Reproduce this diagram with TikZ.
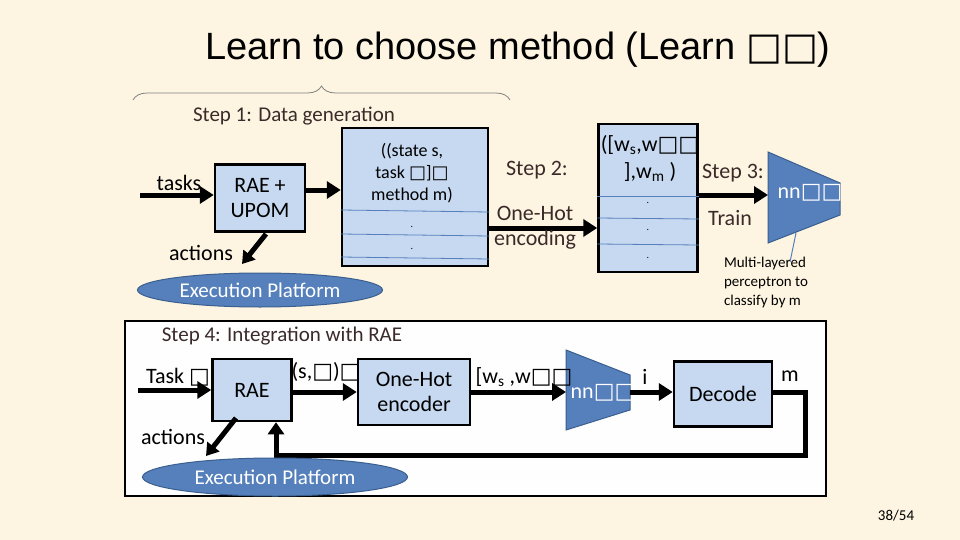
\documentclass[tikz,border=0pt]{standalone}
\usepackage{fontspec}
\setmainfont{Carlito}
\newfontfamily\titlefont{Liberation Sans}
\newfontfamily\djv{DejaVu Sans}
\newcommand{\bx}{{\djv\char"25A1}}
\newcommand{\sbs}[1]{\textsubscript{#1}}
\usetikzlibrary{arrows.meta,decorations.pathreplacing,shapes.geometric}
\definecolor{bg}{HTML}{FDF5E1}
\definecolor{lb}{HTML}{C6D9F1}
\definecolor{nb}{HTML}{5580BC}
\definecolor{nbd}{HTML}{3A5F8F}
\definecolor{tx}{HTML}{3B2A2A}
\begin{document}
\begin{tikzpicture}[x=1pt,y=-1pt,
  box/.style={draw=black,line width=2.5pt,fill=lb},
  arr/.style={line width=5pt,-{Triangle[length=14pt,width=17pt]}},
  sep/.style={draw=nb,line width=0.8pt},
  big/.style={font=\fontsize{22}{25}\selectfont},
  ep/.style={ellipse,fill=nb,draw=nbd,line width=1pt,text=white,font=\fontsize{21}{24}\selectfont,inner sep=0pt},
  lbl/.style={font=\fontsize{22}{25}\selectfont,text=tx},
  nn/.style={fill=nb,draw=nbd,line width=1pt}]
\useasboundingbox (0,0) rectangle (960,540);
\fill[bg] (0,0) rectangle (960,540);
\node[font=\titlefont\fontsize{38}{42}\selectfont] (title) at (518,50) {Learn to choose method (Learn \bx\bx)};
\draw[gray,line width=0.8pt,decorate,decoration={brace,amplitude=14pt}] (133,100) -- (510,100);
\node[lbl,font=\fontsize{21}{24}\selectfont] (s1) at (294,116) {Step 1: Data generation};
% top row
\node[box,minimum width=90pt,minimum height=67pt,align=center,big] (rae) at (260,198) {RAE +\\UPOM};
\coordinate (tin) at (140,195);
\node[big] (tasks) at (179,183) {tasks};
\draw[arr] (tin) -- (rae.west|-tin);
\node[box,minimum width=146pt,minimum height=138pt] (data) at (415,197) {};
\draw[sep] (data.west|-0,210) -- (data.east|-0,212);
\draw[sep] (data.west|-0,234) -- (data.east|-0,236);
\draw[sep] (data.west|-0,257) -- (data.east|-0,259);
\node[font=\fontsize{18}{22}\selectfont,align=center] (dt) at (412,173) {((state s,\\task \bx]\bx\\method m)};
\node (d1) at (412,227) {.};
\node (d2) at (412,249) {.};
\draw[arr] (rae.east|-0,190) -- (data.west|-0,190);
\node[box,minimum width=99pt,minimum height=148pt] (enc) at (648,198) {};
\draw[sep] (enc.west|-0,196) -- (enc.east|-0,196);
\draw[sep] (enc.west|-0,218) -- (enc.east|-0,219);
\draw[sep] (enc.west|-0,244) -- (enc.east|-0,245);
\node[big] (e1) at (650,145) {([w\sbs{s},w\bx\bx};
\node[big] (e2) at (650,172) {],w\sbs{m} )};
\node (e3) at (648,203) {.};
\node (e4) at (648,230) {.};
\node (e5) at (648,258) {.};
\draw[arr] (data.east|-0,228) -- (enc.west|-0,228);
\node[lbl] (st2) at (537,170) {Step 2:};
\node[lbl,align=center] (oh) at (535,228) {One-Hot\\encoding};
\path[nn] (768,152) -- (840,183) -- (840,215) -- (768,243) -- cycle;
\coordinate (nnA) at (768,195);
\node[text=white,big] (nnt) at (810,193) {nn\bx\bx};
\draw[arr] (enc.east|-nnA) -- (nnA);
\node[lbl] (st3) at (733,173) {Step 3:};
\node[lbl] (tr) at (730,218) {Train};
\node[font=\fontsize{15}{19}\selectfont,align=left] (mlp) at (766,282) {Multi-layered\\perceptron to\\classify by m};
\coordinate (mp) at (790,262);
\draw[nb,line width=1pt] (mp) -- (796,233);
\node[ep,minimum width=245pt,minimum height=34pt] (ep1) at (260,290) {Execution Platform};
\node[big] (act1) at (201,253) {actions};
\draw[line width=5pt,-{Triangle[length=12pt,width=15pt]}] (266,234) -- (242,264);
% bottom
\draw[line width=1.5pt,fill=white!92!blue!3] (125,321) rectangle (826,496);
\node[lbl,font=\fontsize{21}{24}\selectfont] (s4) at (282,336) {Step 4: Integration with RAE};
\node[box,minimum width=79pt,minimum height=62pt,big] (rae2) at (252,390) {RAE};
\node[big] (task) at (178,377) {Task \bx};
\coordinate (tin2) at (138,390);
\draw[arr] (tin2) -- (rae2.west|-tin2);
\node[box,minimum width=112pt,minimum height=66pt,align=center,big] (ohe) at (414,392) {One-Hot\\encoder};
\node[big] (sl) at (326,372) {(s,\bx)\bx};
\draw[arr] (rae2.east|-0,392) -- (ohe.west|-0,392);
\path[nn] (566,350) -- (630,375) -- (630,410) -- (566,430) -- cycle;
\coordinate (nnB) at (566,392);
\coordinate (nnBo) at (630,392);
\node[text=white,big] (nnt2) at (603,393) {nn\bx\bx};
\node[big] (wl) at (524,377) {[w\sbs{s} ,w\bx\bx};
\draw[arr] (ohe.east|-nnB) -- (nnB);
\node[box,minimum width=98pt,minimum height=65pt,big] (dec) at (723,394) {Decode};
\node[big] (il) at (645,377) {i};
\draw[arr] (nnBo) -- (dec.west|-nnBo);
\node[big] (ml) at (790,376) {m};
\coordinate (fb) at (276,455);
\draw[line width=5pt,-{Triangle[length=12pt,width=16pt]}] (dec.east|-0,392) -- (805,392) -- (805,455) -- (fb) -- (fb|-rae2.south);
\node[ep,minimum width=265pt,minimum height=38pt] (ep2) at (275,477) {Execution Platform};
\node[big] (act2) at (173,437) {actions};
\draw[line width=5pt,-{Triangle[length=12pt,width=15pt]}] (236,418) -- (206,456);
\node[font=\fontsize{15}{17}\selectfont] (pg) at (896,516) {38/54};
\end{tikzpicture}
\end{document}
